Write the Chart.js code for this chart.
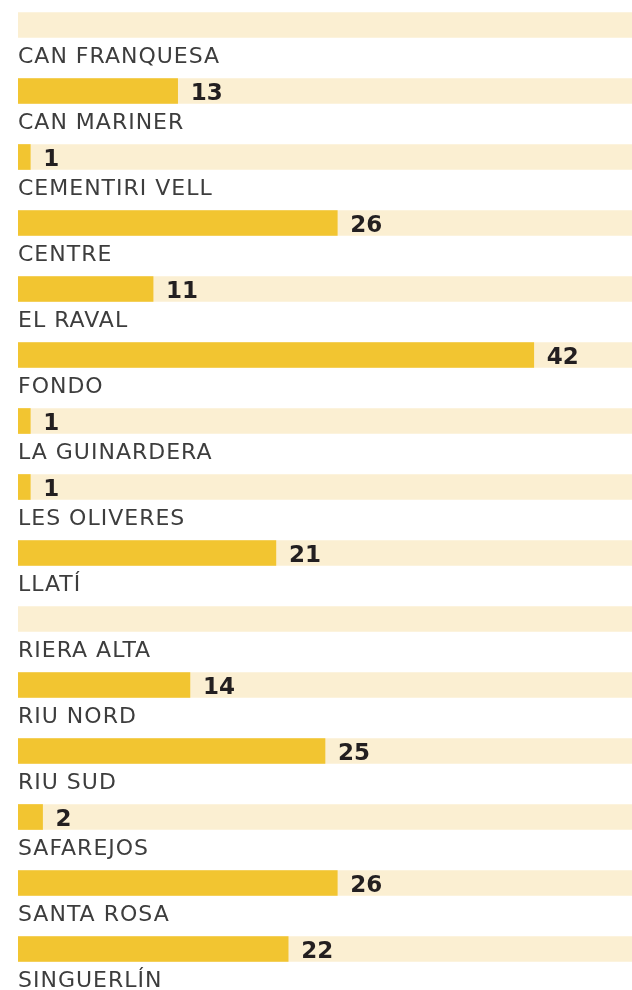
<!DOCTYPE html>
<html>
<head>
<meta charset="utf-8">
<script src="https://cdn.jsdelivr.net/npm/chart.js@4"></script>
<style>
    html, body { margin: 0; padding: 0; background: #fff; overflow: hidden; }
    #wrap { position: absolute; left: 0; top: -8px; width: 632px; height: 1006px; }
</style>
</head>
<body>
<div id="wrap"><canvas id="chart"></canvas></div>
<script>
// ================= DATA =================
const barris = [
    "CAN FRANQUESA", "CAN MARINER", "CEMENTIRI VELL", "CENTRE", "EL RAVAL",
    "FONDO", "LA GUINARDERA", "LES OLIVERES", "LLATÍ", "RIERA ALTA",
    "RIU NORD", "RIU SUD", "SAFAREJOS", "SANTA ROSA", "SINGUERLÍN"
];
const valors = [0, 13, 1, 26, 11, 42, 1, 1, 21, 0, 14, 25, 2, 26, 22];
const MAX_VALUE = 50;
const track = barris.map(() => MAX_VALUE);

// ================= LABELS PLUGIN =================
const labelsPlugin = {
    id: "barLabels",
    afterDatasetsDraw(chart) {
        const ctx = chart.ctx;
        const meta = chart.getDatasetMeta(0);
        const left = chart.chartArea.left;

        ctx.save();
        meta.data.forEach((bar, i) => {
            // category name under the bar
            ctx.font = "22px 'DejaVu Sans'";
            ctx.letterSpacing = "1px";
            ctx.fillStyle = "#3d3d3d";
            ctx.textAlign = "left";
            ctx.textBaseline = "alphabetic";
            ctx.fillText(barris[i], left, bar.y + 38);

            // value after the bar end
            if (valors[i] > 0) {
                ctx.font = "bold 23px 'DejaVu Sans'";
                ctx.letterSpacing = "0px";
                ctx.fillStyle = "#231f20";
                ctx.fillText(String(valors[i]), bar.x + 13, bar.y + 9);
            }
        });
        ctx.restore();
    }
};

// ================= CHART =================
new Chart(document.getElementById("chart"), {
    type: "bar",
    data: {
        labels: barris,
        datasets: [
            {
                data: valors,
                backgroundColor: valors.map(v => v > 0 ? "#f2c531" : "rgba(0,0,0,0)"),
                barThickness: 25,
                grouped: false,
                order: 1
            },
            {
                data: track,
                backgroundColor: "#fbefd2",
                barThickness: 25,
                grouped: false,
                order: 2
            }
        ]
    },
    options: {
        indexAxis: "y",
        responsive: true,
        maintainAspectRatio: false,
        animation: false,
        layout: { padding: { left: 18, right: 0, top: 0, bottom: 16 } },
        plugins: {
            legend: { display: false },
            tooltip: { enabled: false }
        },
        scales: {
            x: { display: false, min: 0, max: MAX_VALUE },
            y: { display: false }
        }
    },
    plugins: [labelsPlugin]
});
</script>
</body>
</html>
